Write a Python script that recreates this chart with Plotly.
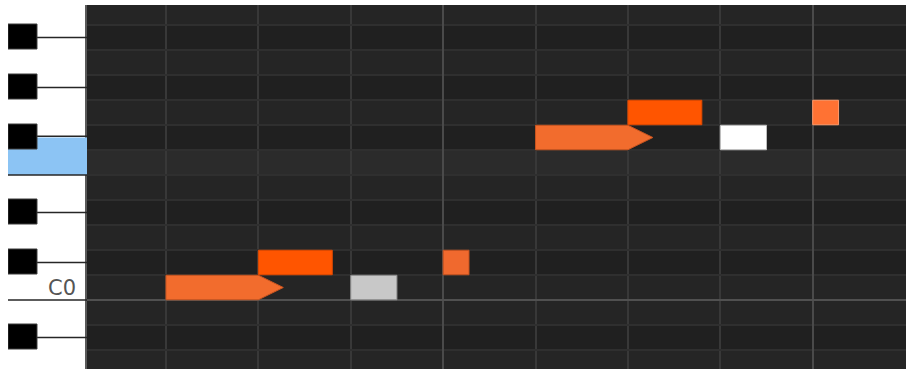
import plotly.graph_objects as go

# pitch numbers: C0 = 12, one row per semitone; x is in beats
note_pitch = [12, 13, 12, 13, 18, 19, 18, 19]
note_start = [1, 2, 3, 4, 5, 6, 7, 8]
note_length = [1, 0.8, 0.5, 0.28, 1, 0.8, 0.5, 0.28]
note_kind = ["held", "accent", "ghost", "short", "held", "accent", "active", "short_hot"]

bar_beats = [0, 4, 8]
beats = list(range(0, 10))
octave_names = {12: "C0"}
hover_pitch = 17

pitch_low, pitch_high = 8.74, 23.3
beat_low, beat_high = 0.145, 9.01

KIND_STYLE = {
    "held": ("#f26c2d", "#c9541f"),
    "accent": ("#ff5500", "#e04a00"),
    "ghost": ("#c8c8c8", "#8c8c8c"),
    "active": ("#ffffff", "#bdbdbd"),
    "short": ("#f0692e", "#c4521f"),
    "short_hot": ("#ff7233", "#ff9a6a"),
}
BLACK = {1, 3, 6, 8, 10}
TAIL = 0.27
SPLIT = 79 / 898

fig = go.Figure()

# notes as polygons, held notes get an arrow tail
for p, s, ln, k in zip(note_pitch, note_start, note_length, note_kind):
    fill, edge = KIND_STYLE[k]
    top, bot = p + 0.49, p - 0.49
    e = s + ln
    if k == "held":
        xs = [s, e, e + TAIL, e, s, s]
        ys = [top, top, p, bot, bot, top]
    else:
        xs = [s, e, e, s, s]
        ys = [top, top, bot, bot, top]
    fig.add_trace(go.Scatter(x=xs, y=ys, mode="lines", fill="toself",
                             fillcolor=fill, line=dict(color=edge, width=1),
                             hoverinfo="skip", showlegend=False))

# dummy trace so the keyboard subplot exists
fig.add_trace(go.Scatter(x=[0], y=[12], xaxis="x2", yaxis="y2", mode="markers",
                         marker=dict(opacity=0), hoverinfo="skip", showlegend=False))

shapes = []
rows = range(int(pitch_low), int(pitch_high) + 1)
for p in rows:
    if p == hover_pitch:
        col = "#2b2b2b"
    elif p % 12 in BLACK:
        col = "#202020"
    else:
        col = "#252525"
    shapes.append(dict(type="rect", xref="x domain", yref="y", x0=0, x1=1,
                       y0=p - 0.5, y1=p + 0.5, fillcolor=col, line_width=0, layer="below"))

# keyboard
kb_line = dict(color="#262626", width=1.5)
for p in rows:
    pc = p % 12
    if p == hover_pitch:
        shapes.append(dict(type="rect", xref="x2", yref="y2", x0=0, x1=1, y0=p - 0.5, y1=p + 1,
                           fillcolor="#8cc4f4", line_width=0, layer="below"))
        shapes.append(dict(type="line", xref="x2", yref="y2", x0=0.367, x1=1, y0=p + 1.05, y1=p + 1.05,
                           line=kb_line))
    if pc in (4, 11):
        shapes.append(dict(type="line", xref="x2", yref="y2", x0=0, x1=1, y0=p + 0.5, y1=p + 0.5,
                           line=kb_line))
for p in rows:
    if p % 12 in BLACK:
        if p - 1 != hover_pitch:
            shapes.append(dict(type="line", xref="x2", yref="y2", x0=0.367, x1=1, y0=p, y1=p,
                               line=kb_line))
        shapes.append(dict(type="rect", xref="x2", yref="y2", x0=0, x1=0.367,
                           y0=p - 0.46, y1=p + 0.54, fillcolor="#000000",
                           line=dict(color="#3c3c3c", width=1)))

annotations = [
    dict(xref="x2", yref="y2", x=0.89, y=p, text=name, showarrow=False, xanchor="right",
         font=dict(family="DejaVu Sans", size=21, color="#555555"))
    for p, name in octave_names.items()
]

fig.update_layout(
    width=906, height=369,
    margin=dict(l=8, r=0, t=5, b=0),
    paper_bgcolor="white", plot_bgcolor="white",
    shapes=shapes, annotations=annotations,
    xaxis=dict(domain=[SPLIT, 1], anchor="y", range=[beat_low, beat_high],
               tickmode="array", tickvals=bar_beats, showticklabels=False, ticks="",
               showgrid=True, gridcolor="#4a4a4a", gridwidth=2, zeroline=False,
               minor=dict(tickmode="array", tickvals=beats, showgrid=True,
                          gridcolor="#383838", gridwidth=2)),
    yaxis=dict(anchor="x", range=[pitch_low, pitch_high],
               tickmode="array", tickvals=[p - 0.5 for p in octave_names],
               showticklabels=False, ticks="", showgrid=True, gridcolor="#505050", gridwidth=2,
               zeroline=False, showline=True, linecolor="#5a5a5a", linewidth=2,
               minor=dict(tickmode="array", tickvals=[p + 0.5 for p in rows], showgrid=True,
                          gridcolor="#2f2f2f", gridwidth=2)),
    xaxis2=dict(domain=[0, SPLIT], anchor="y2", range=[0, 1], visible=False),
    yaxis2=dict(anchor="x2", range=[pitch_low, pitch_high], visible=False),
)

# page body has a default 8px margin; drop it so the figure sits at the corner
fig.write_html("out.html", config={"displayModeBar": False},
               post_script="document.body.style.margin='0';")
